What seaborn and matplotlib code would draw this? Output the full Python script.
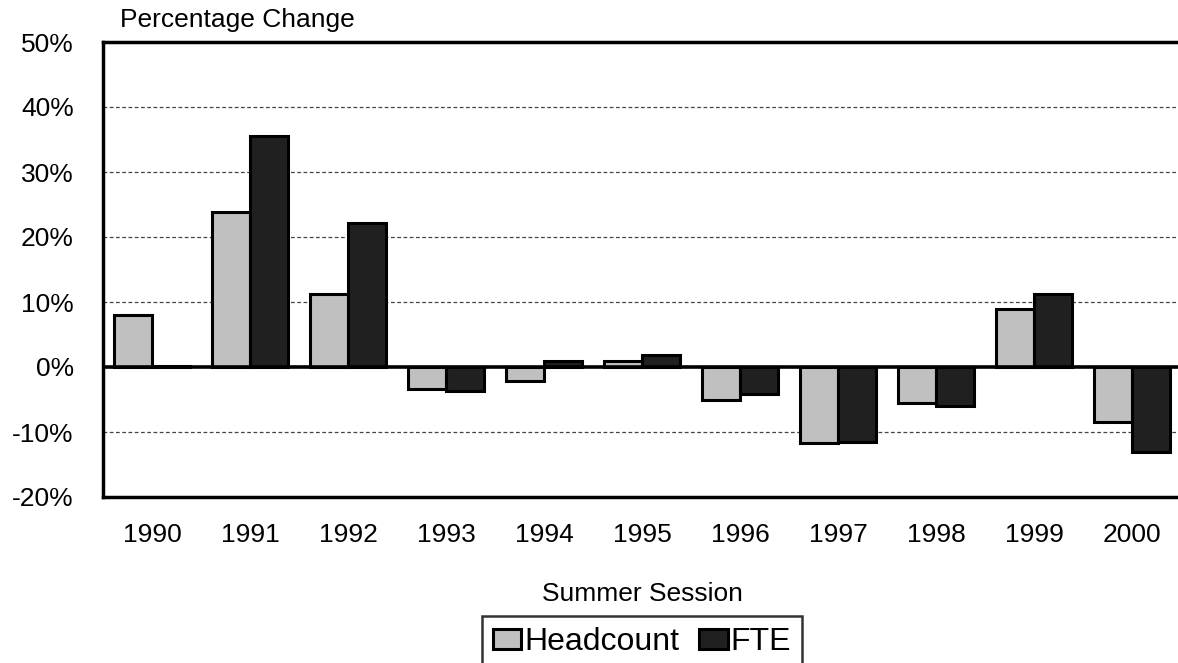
import pandas as pd
import matplotlib.pyplot as plt
import matplotlib.ticker as mtick
import seaborn as sns

# Values (percent change)
years = ["1990", "1991", "1992", "1993", "1994", "1995",
         "1996", "1997", "1998", "1999", "2000"]
headcount = [8.0, 23.9, 11.3, -3.4, -2.2, 1.0, -5.1, -11.7, -5.5, 8.9, -8.5]
fte = [0.2, 35.5, 22.1, -3.7, 0.9, 1.9, -4.2, -11.6, -6.0, 11.3, -13.1]
series = ["Headcount", "FTE"]
colors = {"Headcount": "#c0c0c0", "FTE": "#202020"}

df = pd.DataFrame({"Year": years, "Headcount": headcount, "FTE": fte})
long_df = pd.melt(df, id_vars=["Year"], value_vars=series,
                  var_name="Series", value_name="Change")

sns.set_style("white")
plt.rcParams["font.family"] = ["Liberation Sans", "DejaVu Sans"]
plt.rcParams["axes.unicode_minus"] = False
plt.rcParams["text.color"] = "black"
plt.rcParams["xtick.labelcolor"] = "black"
plt.rcParams["ytick.labelcolor"] = "black"

fig = plt.figure(figsize=(11.78, 6.63), dpi=100)
ax = fig.add_axes([103 / 1178, 1 - 497 / 663, 1078 / 1178, 455 / 663])

sns.barplot(data=long_df, x="Year", y="Change", hue="Series",
            palette=colors, width=0.78, edgecolor="black", linewidth=2.2,
            saturation=1, ax=ax)

ax.set_ylim(-20, 50)
ax.set_yticks(range(-20, 51, 10))
ax.yaxis.set_major_formatter(mtick.PercentFormatter(decimals=0))
ax.yaxis.grid(True, linestyle=(0, (3, 2)), color="#444444", linewidth=0.9)
ax.set_axisbelow(True)
ax.axhline(0, color="black", linewidth=2.6, zorder=3)

for side in ["left", "top", "bottom"]:
    ax.spines[side].set_color("black")
    ax.spines[side].set_linewidth(2.5)
ax.spines["right"].set_visible(False)

ax.tick_params(axis="both", length=11, width=1, color="#808080",
               labelsize=19, labelcolor="black", direction="out")
ax.tick_params(axis="y", pad=10)
ax.tick_params(axis="x", pad=8)
ax.set_xlabel("")
ax.set_ylabel("")

fig.text(120 / 1178, 1 - 20 / 663, "Percentage Change", fontsize=19,
         va="center", ha="left", color="black")
fig.text(642 / 1178, 1 - 594 / 663, "Summer Session", fontsize=19,
         va="center", ha="center", color="black")

handles, labels = ax.get_legend_handles_labels()
ax.get_legend().remove()
leg = fig.legend(handles, labels, loc="upper center",
                 bbox_to_anchor=(642 / 1178, 1 - 616 / 663), ncol=2,
                 fontsize=23, handlelength=0.9, handleheight=0.6,
                 handletextpad=0.1, columnspacing=0.6, borderpad=0.35,
                 borderaxespad=0, fancybox=False, frameon=True)
leg.get_frame().set_edgecolor("black")
leg.get_frame().set_linewidth(1.8)

plt.savefig("out.png", dpi=100)
